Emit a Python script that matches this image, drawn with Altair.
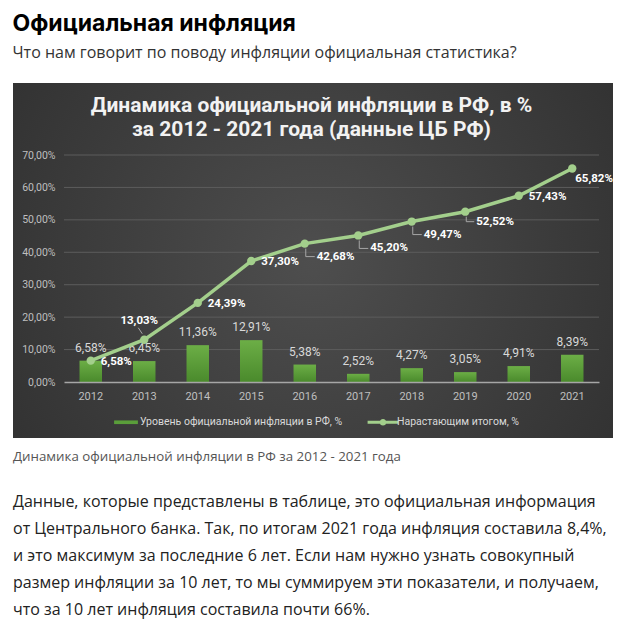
import altair as alt
import pandas as pd

# ---------------- data ----------------
YEARS = ["2012", "2013", "2014", "2015", "2016", "2017", "2018", "2019", "2020", "2021"]
ANNUAL = [6.58, 6.45, 11.36, 12.91, 5.38, 2.52, 4.27, 3.05, 4.91, 8.39]
CUMULATIVE = [6.58, 13.03, 24.39, 37.30, 42.68, 45.20, 49.47, 52.52, 57.43, 65.82]
Y_TICKS = [0, 10, 20, 30, 40, 50, 60, 70]
SERIES = ["Уровень официальной инфляции в РФ, %", "Нарастающим итогом, %"]

HEADING = "Официальная инфляция"
SUBHEADING = "Что нам говорит по поводу инфляции официальная статистика?"
CHART_TITLE = ["Динамика официальной инфляции в РФ, в %", "за 2012 - 2021 года (данные ЦБ РФ)"]
CAPTION = "Динамика официальной инфляции в РФ за 2012 - 2021 года"
PARAGRAPH = [
    "Данные, которые представлены в таблице, это официальная информация",
    "от Центрального банка. Так, по итогам 2021 года инфляция составила 8,4%,",
    "и это максимум за последние 6 лет. Если нам нужно узнать совокупный",
    "размер инфляции за 10 лет, то мы суммируем эти показатели, и получаем,",
    "что за 10 лет инфляция составила почти 66%.",
]


def pct(v):
    return f"{v:.2f}".replace(".", ",") + "%"


df = pd.DataFrame({"year": YEARS, "annual": ANNUAL, "cumulative": CUMULATIVE})
df["annual_label"] = [pct(v) for v in ANNUAL]
df["cum_label"] = [pct(v) for v in CUMULATIVE]

# ---------------- styling ----------------
W, H = 535, 227
FONT = "Roboto"
PAGE_FONT = "Open Sans"
HEAD_FONT = "Inter"
LINE_COLOR = "#a3cf8c"
BAR_COLOR = "#5a9e3a"
AXIS_LABEL = "#bfbfbf"
LEADER = "#a6a6a6"

bg_gradient = alt.Gradient(
    gradient="radial",
    stops=[alt.GradientStop(color="#4e4e4e", offset=0), alt.GradientStop(color="#2c2c2c", offset=1)],
    x1=0.5, y1=0.5, x2=0.5, y2=0.5, r1=0, r2=0.72,
)
bar_gradient = alt.Gradient(
    gradient="linear",
    stops=[alt.GradientStop(color="#6cae46", offset=0), alt.GradientStop(color="#4a8a2c", offset=1)],
    x1=0, y1=0, x2=0, y2=1,
)

x_axis = alt.Axis(
    title=None, labelAngle=0, labelColor=AXIS_LABEL, labelFontSize=11, labelFont=FONT,
    labelPadding=8, ticks=False, grid=False, domainColor="#a6a6a6", domainWidth=1.5,
    zindex=1,
)
x_scale = alt.Scale(paddingInner=0.58, paddingOuter=0.29)
x_enc = alt.X("year:O", scale=x_scale, axis=x_axis)

y_scale = alt.Scale(domain=[0, 70], nice=False)
y_axis = alt.Axis(
    title=None, values=Y_TICKS, grid=False, domain=False, ticks=False,
    labelExpr="replace(format(datum.value, '.2f'), '.', ',') + '%'",
    labelColor=AXIS_LABEL, labelFontSize=10.5, labelFont=FONT, labelPadding=9,
    zindex=1,
)


def Y(field):
    return alt.Y(f"{field}:Q", scale=y_scale, axis=y_axis)


background = alt.Chart(alt.Data(values=[{"panel": 1}])).mark_rect(fill=bg_gradient).encode(
    x=alt.value(-51), x2=alt.value(W + 14), y=alt.value(-72), y2=alt.value(H + 56)
)

grid = alt.Chart(pd.DataFrame({"tick": Y_TICKS[1:]})).mark_rule(
    color="#5c5c5c", strokeWidth=1
).encode(y=Y("tick"))

bars = alt.Chart(df).mark_bar(fill=bar_gradient).encode(x=x_enc, y=Y("annual"))

bar_labels = alt.Chart(df).mark_text(
    baseline="bottom", dy=-6, color="#d9d9d9", fontSize=12, font=FONT
).encode(x=x_enc, y=Y("annual"), text="annual_label:N")

line = alt.Chart(df).mark_line(color=LINE_COLOR, strokeWidth=3.5).encode(x=x_enc, y=Y("cumulative"))
points = alt.Chart(df).mark_point(filled=True, size=70, color=LINE_COLOR, opacity=1).encode(
    x=x_enc, y=Y("cumulative")
)


def pick(years):
    return alt.Chart(df).transform_filter(alt.FieldOneOfPredicate(field="year", oneOf=years))


def line_labels(years, dx, dy, align="left"):
    return pick(years).mark_text(
        align=align, baseline="middle", dx=dx, dy=dy, color="#ffffff",
        fontSize=11.5, fontWeight="bold", font=FONT,
    ).encode(x=x_enc, y=Y("cumulative"), text="cum_label:N")


def leader(years, xo, x2o, yo, y2o):
    return pick(years).mark_rule(
        color=LEADER, strokeWidth=1, xOffset=xo, x2Offset=x2o, yOffset=yo, y2Offset=y2o
    ).encode(
        x=alt.X("year:O", bandPosition=0.5, scale=x_scale, axis=x_axis),
        x2=alt.X2("year:O", bandPosition=0.5),
        y=Y("cumulative"),
        y2=alt.Y2("cumulative:Q"),
    )


label_layers = [
    line_labels(["2012", "2014", "2015", "2020"], 10, 1),
    line_labels(["2013"], -5, -19, "center"),
    line_labels(["2016", "2017", "2018"], 12, 13),
    line_labels(["2019"], 11, 10),
    line_labels(["2021"], 3, 10),
]

leader_layers = [
    leader(["2013"], -2, -6, -6, -12),
    leader(["2016", "2017", "2018"], 1, 1, 5, 13),
    leader(["2016", "2017", "2018"], 1, 10, 13, 13),
    leader(["2019"], 1, 1, 5, 10),
    leader(["2019"], 1, 9, 10, 10),
]

BAR_SYMBOL = "M-0.85,-0.13H0.85V0.13H-0.85Z"
LINE_SYMBOL = ("M-1.1,-0.1H1.1V0.1H-1.1Z"
               "M0.24,0A0.24,0.24 0 1 1 -0.24,0A0.24,0.24 0 1 1 0.24,0Z")

legend = alt.Legend(
    orient="none", legendX=48, legendY=253, direction="horizontal", title=None,
    labelColor="#d9d9d9", labelFontSize=10.5, labelFont=FONT, labelLimit=400,
    symbolSize=784, symbolStrokeWidth=0, symbolOpacity=1, labelOffset=0,
    columnPadding=24, padding=0,
)
legend_layer = alt.Chart(alt.Data(values=[{"series": s} for s in SERIES])).mark_point(
    filled=True, opacity=0
).encode(
    fill=alt.Fill("series:N", scale=alt.Scale(domain=SERIES, range=[BAR_COLOR, LINE_COLOR]), legend=legend),
    shape=alt.Shape("series:N", scale=alt.Scale(domain=SERIES, range=[BAR_SYMBOL, LINE_SYMBOL]), legend=legend),
)

dark = alt.layer(
    background, grid, bars, bar_labels, *leader_layers, line, points, *label_layers, legend_layer
).properties(
    width=W,
    height=H,
    title=alt.TitleParams(
        text=CHART_TITLE, frame="group", anchor="middle", dx=-20, offset=-57,
        font=FONT, fontSize=21, fontWeight="bold", color="#f2f2f2", lineHeight=24,
    ),
)

text_block = alt.Chart(alt.Data(values=[{"t": ""}])).mark_text(opacity=0).encode(
    text="t:N"
).properties(
    width=540,
    height=1,
    title=alt.TitleParams(
        text=CAPTION, subtitle=PARAGRAPH, anchor="start", frame="group", offset=0, dx=-51,
        font=PAGE_FONT, fontSize=13.3, fontWeight="normal", color="#555555",
        subtitleFont=PAGE_FONT, subtitleFontSize=16, subtitleColor="#222222",
        subtitleLineHeight=27, subtitlePadding=30,
    ),
)

chart = alt.vconcat(dark, text_block, spacing=11).properties(
    title=alt.TitleParams(
        text=HEADING, subtitle=SUBHEADING, anchor="start", offset=22,
        font=HEAD_FONT, fontSize=23, fontWeight="bold", color="#000000",
        subtitleFont=PAGE_FONT, subtitleFontSize=16, subtitleColor="#333333",
        subtitlePadding=9,
    ),
    padding={"left": 4, "top": 4, "right": 0, "bottom": 0},
).configure_view(stroke="transparent")

chart.save("out.html", embed_options={"renderer": "svg", "actions": False})
